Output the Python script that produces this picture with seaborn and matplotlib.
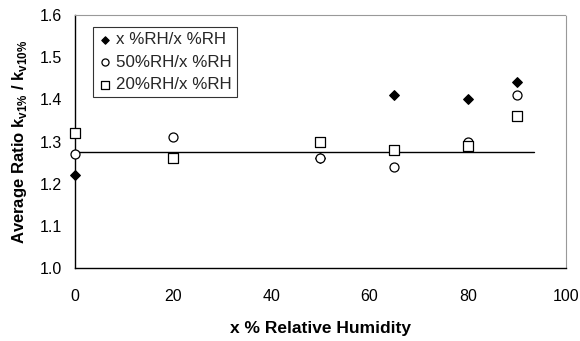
import matplotlib
matplotlib.use("Agg")
import matplotlib.pyplot as plt
import seaborn as sns
import pandas as pd
import numpy as np

rh = [0, 20, 50, 65, 80, 90]
x_x = [1.22, 1.26, 1.26, 1.41, 1.40, 1.44]
r50_x = [1.27, 1.31, 1.26, 1.24, 1.30, 1.41]
r20_x = [1.32, 1.26, 1.30, 1.28, 1.29, 1.36]
series_names = ["x %RH/x %RH", "50%RH/x %RH", "20%RH/x %RH"]
avg_level = 1.275
avg_span = [0, 93.5]

sns.set_theme(style="white")
plt.rcParams['font.family'] = ['Liberation Sans', 'DejaVu Sans']
plt.rcParams['mathtext.fontset'] = 'custom'
plt.rcParams['mathtext.rm'] = 'Liberation Sans'
plt.rcParams['mathtext.bf'] = 'Liberation Sans:bold'

df = pd.DataFrame({
    "rh": rh * 3,
    "ratio": x_x + r50_x + r20_x,
    "series": sum([[n] * len(rh) for n in series_names], []),
})

fig = plt.figure(figsize=(5.8, 3.41), dpi=100)
ax = fig.add_axes([0.129, 0.214, 0.847, 0.742])

styles = {
    series_names[0]: dict(marker="D", s=24, facecolor="black", edgecolor="black", ls=14),
    series_names[1]: dict(marker="o", s=42, facecolor="white", edgecolor="black", ls=26),
    series_names[2]: dict(marker="s", s=55, facecolor="white", edgecolor="black", ls=34),
}
ax.plot(avg_span, [avg_level, avg_level], color="black", lw=1.0, zorder=1)
for name in series_names:
    st = styles[name]
    sub = df[df.series == name]
    sns.scatterplot(data=sub, x="rh", y="ratio", ax=ax, marker=st["marker"], s=st["s"],
                    color=st["facecolor"], edgecolor=st["edgecolor"], linewidth=0.9,
                    label=name, zorder=3, clip_on=False)

ax.set_xlim(0, 100)
ax.set_ylim(1.0, 1.6)
ax.set_xticks(np.arange(0, 101, 20))
ax.set_yticks(np.round(np.arange(1.0, 1.61, 0.1), 1))
ax.set_yticklabels([f"{v:.1f}" for v in np.arange(1.0, 1.61, 0.1)])
ax.tick_params(axis="both", direction="out", length=4, width=0.8, color="black",
               labelsize=11.5, labelcolor="black", pad=5)
ax.tick_params(axis="x", pad=11)
for side in ["left", "bottom"]:
    ax.spines[side].set_color("black")
    ax.spines[side].set_linewidth(1.0)
for side in ["top", "right"]:
    ax.spines[side].set_color("#999999")
    ax.spines[side].set_linewidth(0.8)
    ax.spines[side].set_linestyle((0, (1, 1)))

ax.set_xlabel("x % Relative Humidity", fontsize=12.5, fontweight="bold", labelpad=12, color="black")
ax.set_ylabel(r"Average Ratio k$_{\mathbf{v1\%}}$ / k$_{\mathbf{v10\%}}$", fontsize=12,
              fontweight="bold", labelpad=8, color="black")

leg = ax.legend(loc="upper left", bbox_to_anchor=(0.037, 0.953), frameon=True, fancybox=False,
                fontsize=12.2, handletextpad=0.25, handlelength=0.8, borderpad=0.3,
                labelspacing=0.45, borderaxespad=0)
leg.get_frame().set_edgecolor("black")
leg.get_frame().set_linewidth(0.8)
for h, name in zip(leg.legend_handles, series_names):
    h.set_sizes([styles[name]["ls"]])

fig.savefig("out.png", dpi=100)
